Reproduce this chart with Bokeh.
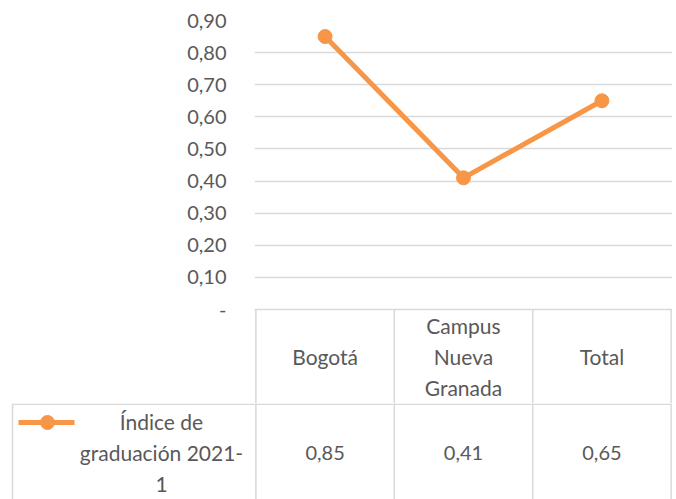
from bokeh.plotting import figure
from bokeh.models import FactorRange, Range1d, FixedTicker, CustomJSTickFormatter, ColumnDataSource
from bokeh.layouts import column
from bokeh.core.properties import value
from bokeh.embed import file_html
from bokeh.resources import INLINE

# ---- data ----
categories = ["Bogotá", "Campus Nueva Granada", "Total"]
header_labels = ["Bogotá", "Campus\nNueva\nGranada", "Total"]
values = [0.85, 0.41, 0.65]
series_label = "Índice de\ngraduación 2021-\n1"
y_ticks = [0, 0.1, 0.2, 0.3, 0.4, 0.5, 0.6, 0.7, 0.8, 0.9]

# ---- style / layout ----
ORANGE = "#F79646"
GRID = "#D9D9D9"
TEXT = "#595959"
FONT = "Lato"
NUM_SIZE = "20px"
WORD_SIZE = "21px"
LH = 1.24

W = 676
LEFT = 254          # frame left (px)
RIGHT = 4           # right border (px)
TOP = 20            # y of top gridline
ZERO = 309          # y of zero line / table top
SPLIT = 403         # header / body split
H = 499
PAD = 0.01          # x padding in category units

n = len(categories)
px_per_unit = (ZERO - TOP) / y_ticks[-1]
y_start = -(SPLIT - ZERO) / px_per_unit

# ---- top: line chart + table header ----
p = figure(width=W, height=SPLIT,
           x_range=FactorRange(factors=categories, range_padding=PAD, range_padding_units="absolute"),
           y_range=Range1d(y_start, y_ticks[-1]), output_backend="svg", toolbar_location=None,
           x_axis_location=None, min_border_left=LEFT, min_border_right=RIGHT,
           min_border_top=TOP, min_border_bottom=0, frame_align=False)
p.outline_line_color = None
p.xgrid.grid_line_color = None
p.ygrid.grid_line_color = GRID
p.ygrid.grid_line_width = 1.3
p.ygrid.ticker = FixedTicker(ticks=y_ticks)
p.yaxis.ticker = FixedTicker(ticks=y_ticks)
p.yaxis.formatter = CustomJSTickFormatter(code="""
    if (Math.abs(tick) < 1e-9) { return "-"; }
    return tick.toFixed(2).replace(".", ",");
""")
p.yaxis.axis_line_color = None
p.yaxis.major_tick_line_color = None
p.yaxis.minor_tick_line_color = None
p.yaxis.major_tick_in = 0
p.yaxis.major_tick_out = 0
p.yaxis.major_label_standoff = 28
p.yaxis.major_label_text_font = FONT
p.yaxis.major_label_text_font_size = NUM_SIZE
p.yaxis.major_label_text_color = TEXT

# header column borders (category boundaries 0..n)
bounds = list(range(n + 1))
p.segment(x0=bounds, y0=[0] * (n + 1), x1=bounds, y1=[y_start * 1.05] * (n + 1),
          line_color=GRID, line_width=1.5)
# header labels
header_y = -((SPLIT - ZERO) / 2) / px_per_unit
p.text(x=categories, y=[header_y] * n, text=header_labels, text_align="center",
       text_baseline="middle", text_font=value(FONT), text_font_size=WORD_SIZE,
       text_color=TEXT, text_line_height=LH)

src = ColumnDataSource(dict(x=categories, y=values))
p.line("x", "y", source=src, line_color=ORANGE, line_width=5)
p.scatter("x", "y", source=src, size=14, fill_color=ORANGE, line_color=ORANGE)

# ---- bottom: table body row ----
BH = H - SPLIT
t = figure(width=W, height=BH, x_range=Range1d(0, W), y_range=Range1d(BH, 0),
           output_backend="svg", toolbar_location=None,
           x_axis_location=None, y_axis_location=None,
           min_border_left=0, min_border_right=0, min_border_top=0, min_border_bottom=0,
           frame_align=False)
t.outline_line_color = None
t.grid.grid_line_color = None

unit = (W - LEFT - RIGHT) / (n + 2 * PAD)
def tx(u):
    return LEFT + (PAD + u) * unit

body_left = 12
t.segment(x0=[body_left], y0=[0.75], x1=[tx(n)], y1=[0.75], line_color=GRID, line_width=1.5)
vx = [tx(i) for i in range(n + 1)] + [body_left]
t.segment(x0=vx, y0=[0] * len(vx), x1=vx, y1=[BH] * len(vx), line_color=GRID, line_width=1.5)

body_mid = 49
t.text(x=[tx(i + 0.5) for i in range(n)], y=[body_mid] * n,
       text=[f"{v:.2f}".replace(".", ",") for v in values],
       text_align="center", text_baseline="middle", text_font=value(FONT),
       text_font_size=NUM_SIZE, text_color=TEXT)

# legend key + series label
t.segment(x0=[18], y0=[19], x1=[74], y1=[19], line_color=ORANGE, line_width=5)
t.scatter(x=[47], y=[19], size=14, fill_color=ORANGE, line_color=ORANGE)
t.text(x=[161], y=[body_mid], text=[series_label], text_align="center",
       text_baseline="middle", text_font=value(FONT), text_font_size=WORD_SIZE,
       text_color=TEXT, text_line_height=LH)

layout = column(p, t, spacing=0)
open("out.html", "w").write(file_html(layout, INLINE))
